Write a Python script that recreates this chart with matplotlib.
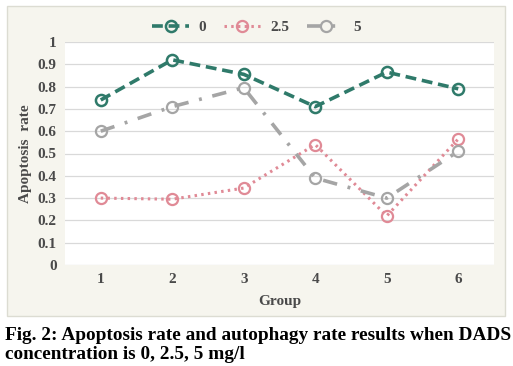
import matplotlib.pyplot as plt
from matplotlib.patches import Rectangle

groups = [1, 2, 3, 4, 5, 6]
conc_0 = [0.74, 0.92, 0.855, 0.71, 0.865, 0.79]
conc_25 = [0.30, 0.295, 0.345, 0.54, 0.22, 0.565]
conc_5 = [0.60, 0.71, 0.795, 0.39, 0.30, 0.51]
series_labels = ["0", "2.5", "5"]
yticks = [0, 0.1, 0.2, 0.3, 0.4, 0.5, 0.6, 0.7, 0.8, 0.9, 1]
ytick_labels = ["0", "0.1", "0.2", "0.3", "0.4", "0.5", "0.6", "0.7", "0.8", "0.9", "1"]

plt.rcParams['font.family'] = ['Liberation Serif', 'DejaVu Serif']

fig = plt.figure(figsize=(5.13, 3.66), dpi=100)
fig.patch.set_facecolor('white')

# beige chart panel behind the axes
panel = Rectangle((7 / 513, 1 - 316 / 366), 498 / 513, 310 / 366,
                  transform=fig.transFigure, facecolor='#f6f5ee',
                  edgecolor='#dcdcd2', linewidth=1, zorder=-10)
fig.patches.append(panel)

ax = fig.add_axes([65 / 513, 1 - 265 / 366, 429 / 513, 223 / 366])
ax.set_zorder(1)
ax.set_facecolor('white')

tick_col = '#4a4a4a'
ax.plot(groups, conc_0, color='#2f7a6a', linestyle=(0, (3, 1.6)), linewidth=2.6,
        marker='o', markersize=8, markerfacecolor='none', markeredgewidth=1.8,
        label=series_labels[0], zorder=3)
ax.plot(groups, conc_25, color='#e08a96', linestyle=(0, (0.8, 1.4)), linewidth=2.2,
        marker='o', markersize=8, markerfacecolor='none', markeredgewidth=1.6,
        label=series_labels[1], zorder=3)
ax.plot(groups, conc_5, color='#a5a5a5', linestyle=(0, (4, 3, 0.8, 3)), linewidth=2.6,
        marker='o', markersize=8, markerfacecolor='none', markeredgewidth=1.6,
        label=series_labels[2], zorder=3)

ax.set_xlim(0.5, 6.5)
ax.set_ylim(0, 1)
ax.set_yticks(yticks)
ax.set_yticklabels(ytick_labels)
ax.set_xticks(groups)
ax.grid(axis='y', color='#d9d9d9', linewidth=0.9)
ax.set_axisbelow(True)
for s in ax.spines.values():
    s.set_visible(False)
ax.tick_params(length=0, colors=tick_col, labelsize=11, pad=6)
for lbl in ax.get_xticklabels() + ax.get_yticklabels():
    lbl.set_fontweight('bold')

ax.set_xlabel("Group", fontsize=11, fontweight='bold', color=tick_col, labelpad=6)
ax.set_ylabel("Apoptosis  rate", fontsize=11, fontweight='bold', color=tick_col, labelpad=4)

leg = fig.legend(loc='center', bbox_to_anchor=(0.5, 1 - 27 / 366), ncol=3,
                 frameon=False, fontsize=11, handlelength=2.4, columnspacing=1.2,
                 handletextpad=0.6)
for t in leg.get_texts():
    t.set_fontweight('bold')
    t.set_color(tick_col)

fig.text(0.01, 1 - 340 / 366, "Fig. 2: Apoptosis rate and autophagy rate results when DADS",
         fontsize=13.9, fontweight='bold', color='black', va='baseline')
fig.text(0.01, 1 - 359 / 366, "concentration is 0, 2.5, 5 mg/l",
         fontsize=13.9, fontweight='bold', color='black', va='baseline')

fig.savefig('out.png', dpi=100)
